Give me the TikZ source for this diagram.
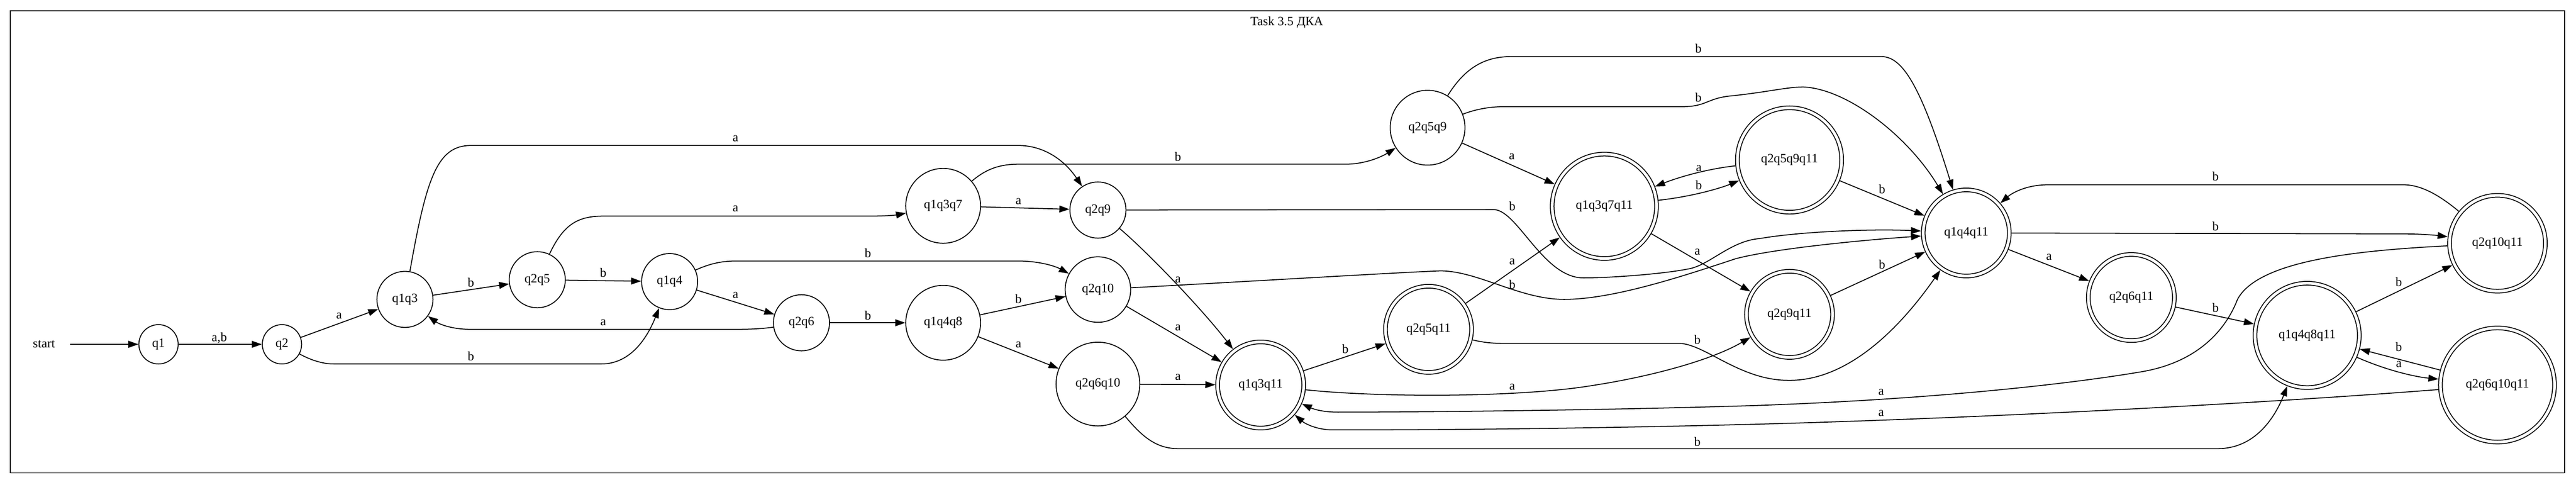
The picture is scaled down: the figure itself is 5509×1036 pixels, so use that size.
\documentclass[tikz,border=0pt]{standalone}
\usepackage{fontspec}
\setmainfont{Liberation Serif}
\usetikzlibrary{arrows.meta}
\tikzset{
  stt/.style={draw, circle, line width=1pt, inner sep=0pt, font=\fontsize{14pt}{16pt}\selectfont},
  acc/.style={stt, double, double distance=3pt, outer sep=2.5pt},
  tr/.style={line width=1pt, -{Triangle[length=11pt,width=7.5pt]}},
  lab/.style={font=\fontsize{14pt}{16pt}\selectfont, inner sep=0pt},
}
\begin{document}
\begin{tikzpicture}[x=0.5128pt, y=-0.5128pt]
\useasboundingbox (0,0) rectangle (5509,1036);
\draw[line width=1pt] (22,23) rectangle (5485,1011);
\node[lab] (title) at (2752,48) {Task 3.5 ДКА};

\node[lab, minimum width=56.4pt] (start) at (94,736) {start};
\node[stt, minimum size=43.1pt] (q1) at (339,736) {q1};
\node[stt, minimum size=43.1pt] (q2) at (603,736) {q2};
\node[stt, minimum size=61.5pt] (q1q3) at (866,640) {q1q3};
\node[stt, minimum size=61.5pt] (q2q5) at (1149,598) {q2q5};
\node[stt, minimum size=61.5pt] (q1q4) at (1432,602) {q1q4};
\node[stt, minimum size=61.5pt] (q2q6) at (1714,690) {q2q6};
\node[stt, minimum size=82pt] (q1q4q8) at (2017,690) {q1q4q8};
\node[stt, minimum size=82pt] (q1q3q7) at (2017,440) {q1q3q7};
\node[stt, minimum size=61.5pt] (q2q9) at (2348,449) {q2q9};
\node[stt, minimum size=71.8pt] (q2q10) at (2348,619) {q2q10};
\node[stt, minimum size=91.8pt] (q2q6q10) at (2348,821) {q2q6q10};
\node[stt, minimum size=82pt] (q2q5q9) at (3053,273) {q2q5q9};
\node[acc, minimum size=94.4pt] (q1q3q11) at (2696,823) {q1q3q11};
\node[acc, minimum size=94.4pt] (q2q5q11) at (3055,704) {q2q5q11};
\node[acc, minimum size=114.4pt] (q1q3q7q11) at (3431,441) {q1q3q7q11};
\node[acc, minimum size=114.4pt] (q2q5q9q11) at (3827,342) {q2q5q9q11};
\node[acc, minimum size=94.4pt] (q2q9q11) at (3827,672) {q2q9q11};
\node[acc, minimum size=94.4pt] (q1q4q11) at (4205,498) {q1q4q11};
\node[acc, minimum size=94.4pt] (q2q6q11) at (4558,636) {q2q6q11};
\node[acc, minimum size=114.4pt] (q1q4q8q11) at (4934,717) {q1q4q8q11};
\node[acc, minimum size=105.1pt] (q2q10q11) at (5341,520) {q2q10q11};
\node[acc, minimum size=125.1pt] (q2q6q10q11) at (5341,823) {q2q6q10q11};

\draw[tr] (start) -- (q1);
\draw[tr] (q1) -- (q2) node[lab] (l1) at (469,723) {a,b};
\draw[tr] (q2) -- (q1q3) node[lab] (l2) at (725,675) {a};
\draw[tr] (q2) .. controls (665,770) and (690,778) .. (714,778) -- (1286,778) .. controls (1350,778) and (1385,720) .. (q1q4) node[lab] (l3) at (1007,761) {b};
\draw[tr] (q1q3) -- (q2q5) node[lab] (l4) at (1007,604) {b};
\draw[tr] (q1q3) .. controls (912,380) and (935,311) .. (1007,311) -- (2178,311) .. controls (2230,311) and (2275,340) .. (q2q9) node[lab] (l5) at (1573,296) {a};
\draw[tr] (q2q5) -- (q1q4) node[lab] (l6) at (1290,583) {b};
\draw[tr] (q2q5) .. controls (1205,480) and (1235,462) .. (1290,462) -- (1859,462) .. controls (1890,462) and (1915,460) .. (q1q3q7) node[lab] (l7) at (1573,446) {a};
\draw[tr] (q1q4) -- (q2q6) node[lab] (l8) at (1573,631) {a};
\draw[tr] (q1q4) .. controls (1515,565) and (1540,558) .. (1573,558) -- (2178,558) .. controls (2220,558) and (2255,568) .. (q2q10) node[lab] (l9) at (1856,541) {b};
\draw[tr] (q2q6) .. controls (1630,703) and (1600,704) .. (1573,704) -- (1007,704) .. controls (960,704) and (935,690) .. (q1q3) node[lab] (l10) at (1290,689) {a};
\draw[tr] (q2q6) -- (q1q4q8) node[lab] (l11) at (1856,674) {b};
\draw[tr] (q1q3q7) -- (q2q9) node[lab] (l12) at (2178,431) {a};
\draw[tr] (q1q3q7) .. controls (2110,360) and (2140,351) .. (2178,351) -- (2877,351) .. controls (2920,351) and (2955,335) .. (q2q5q9) node[lab] (l13) at (2519,335) {b};
\draw[tr] (q1q4q8) -- (q2q10) node[lab] (l14) at (2178,639) {b};
\draw[tr] (q1q4q8) -- (q2q6q10) node[lab] (l15) at (2178,737) {a};
\draw[tr] (q2q9) .. controls (2455,540) and (2570,660) .. (q1q3q11) node[lab] (l16) at (2519,598) {a};
\draw[tr] (q2q9) -- (3194,448) .. controls (3245,448) and (3300,594) .. (3386,594) .. controls (3450,594) and (3560,585) .. (3610,575) .. controls (3655,568) and (3700,515) .. (3763,510) .. controls (3850,495) and (4000,489) .. (q1q4q11) node[lab] (l17) at (3234,441) {b};
\draw[tr] (q2q10) -- (q1q3q11) node[lab] (l18) at (2519,700) {a};
\draw[tr] (q2q10) .. controls (2700,600) and (2980,583) .. (3080,579) .. controls (3160,579) and (3250,640) .. (3345,640) .. controls (3450,640) and (3600,590) .. (3712,553) .. controls (3800,530) and (4000,512) .. (q1q4q11) node[lab] (l19) at (3234,608) {b};
\draw[tr] (q2q6q10) -- (q1q3q11) node[lab] (l20) at (2519,806) {a};
\draw[tr] (q2q6q10) .. controls (2440,930) and (2470,959) .. (2519,959) -- (4743,959) .. controls (4830,959) and (4870,880) .. (q1q4q8q11) node[lab] (l21) at (3630,944) {b};
\draw[tr] (q2q5q9) .. controls (3130,150) and (3170,121) .. (3231,121) -- (4024,121) .. controls (4070,121) and (4110,190) .. (q1q4q11) node[lab] (l22) at (3632,104) {b};
\draw[tr] (q2q5q9) .. controls (3160,232) and (3190,228) .. (3218,228) -- (3598,228) .. controls (3650,228) and (3650,210) .. (3702,205) .. controls (3780,197) and (3820,186) .. (3857,186) .. controls (3950,190) and (4080,290) .. (q1q4q11) node[lab] (l23) at (3632,208) {b};
\draw[tr] (q2q5q9) -- (q1q3q7q11) node[lab] (l24) at (3233,335) {a};
\draw[tr] (q1q3q11) -- (q2q5q11) node[lab] (l25) at (2877,746) {b};
\draw[tr] (q1q3q11) .. controls (2950,850) and (3250,850) .. (3406,824) .. controls (3530,805) and (3660,770) .. (q2q9q11) node[lab] (l26) at (3234,827) {a};
\draw[tr] (q2q5q11) -- (q1q3q7q11) node[lab] (l27) at (3234,560) {a};
\draw[tr] (q2q5q11) .. controls (3180,734) and (3200,734) .. (3222,734) -- (3590,734) .. controls (3645,734) and (3720,813) .. (3824,813) .. controls (3940,815) and (4050,720) .. (q1q4q11) node[lab] (l28) at (3630,726) {b};
\draw[tr] (q1q3q7q11) .. controls (3620,420) and (3680,402) .. (q2q5q9q11) node[lab] (l29) at (3633,396) {b};
\draw[tr] (q2q5q9q11) .. controls (3660,360) and (3600,375) .. (q1q3q7q11) node[lab] (l30) at (3633,360) {a};
\draw[tr] (q1q3q7q11) -- (q2q9q11) node[lab] (l31) at (3630,539) {a};
\draw[tr] (q2q5q9q11) -- (q1q4q11) node[lab] (l32) at (4025,404) {b};
\draw[tr] (q2q9q11) -- (q1q4q11) node[lab] (l33) at (4025,565) {b};
\draw[tr] (q1q4q11) -- (q2q6q11) node[lab] (l34) at (4382,550) {a};
\draw[tr] (q1q4q11) -- (5140,500) .. controls (5180,500) and (5210,503) .. (q2q10q11) node[lab] (l35) at (4738,484) {b};
\draw[tr] (q2q10q11) .. controls (5220,420) and (5180,395) .. (5140,395) -- (4380,395) .. controls (4330,395) and (4300,415) .. (q1q4q11) node[lab] (l36) at (4738,377) {b};
\draw[tr] (q2q6q11) -- (q1q4q8q11) node[lab] (l37) at (4738,658) {b};
\draw[tr] (q1q4q8q11) -- (q2q10q11) node[lab] (l38) at (5130,603) {b};
\draw[tr] (q1q4q8q11) .. controls (5100,790) and (5160,805) .. (q2q6q10q11) node[lab] (l39) at (5130,779) {a};
\draw[tr] (q2q6q10q11) -- (q1q4q8q11) node[lab] (l40) at (5130,741) {b};
\draw[tr] (q2q10q11) .. controls (5050,535) and (4830,555) .. (4785,640) .. controls (4760,705) and (4700,775) .. (4578,795) .. controls (4400,825) and (4100,855) .. (3750,867) .. controls (3400,878) and (3000,881) .. (2861,881) .. controls (2830,881) and (2810,875) .. (q1q3q11) node[lab] (l41) at (4023,838) {a};
\draw[tr] (q2q6q10q11) .. controls (4800,865) and (4200,895) .. (3750,907) .. controls (3400,916) and (3100,919) .. (2851,919) .. controls (2815,919) and (2790,905) .. (q1q3q11) node[lab] (l42) at (4023,883) {a};
\end{tikzpicture}
\end{document}
